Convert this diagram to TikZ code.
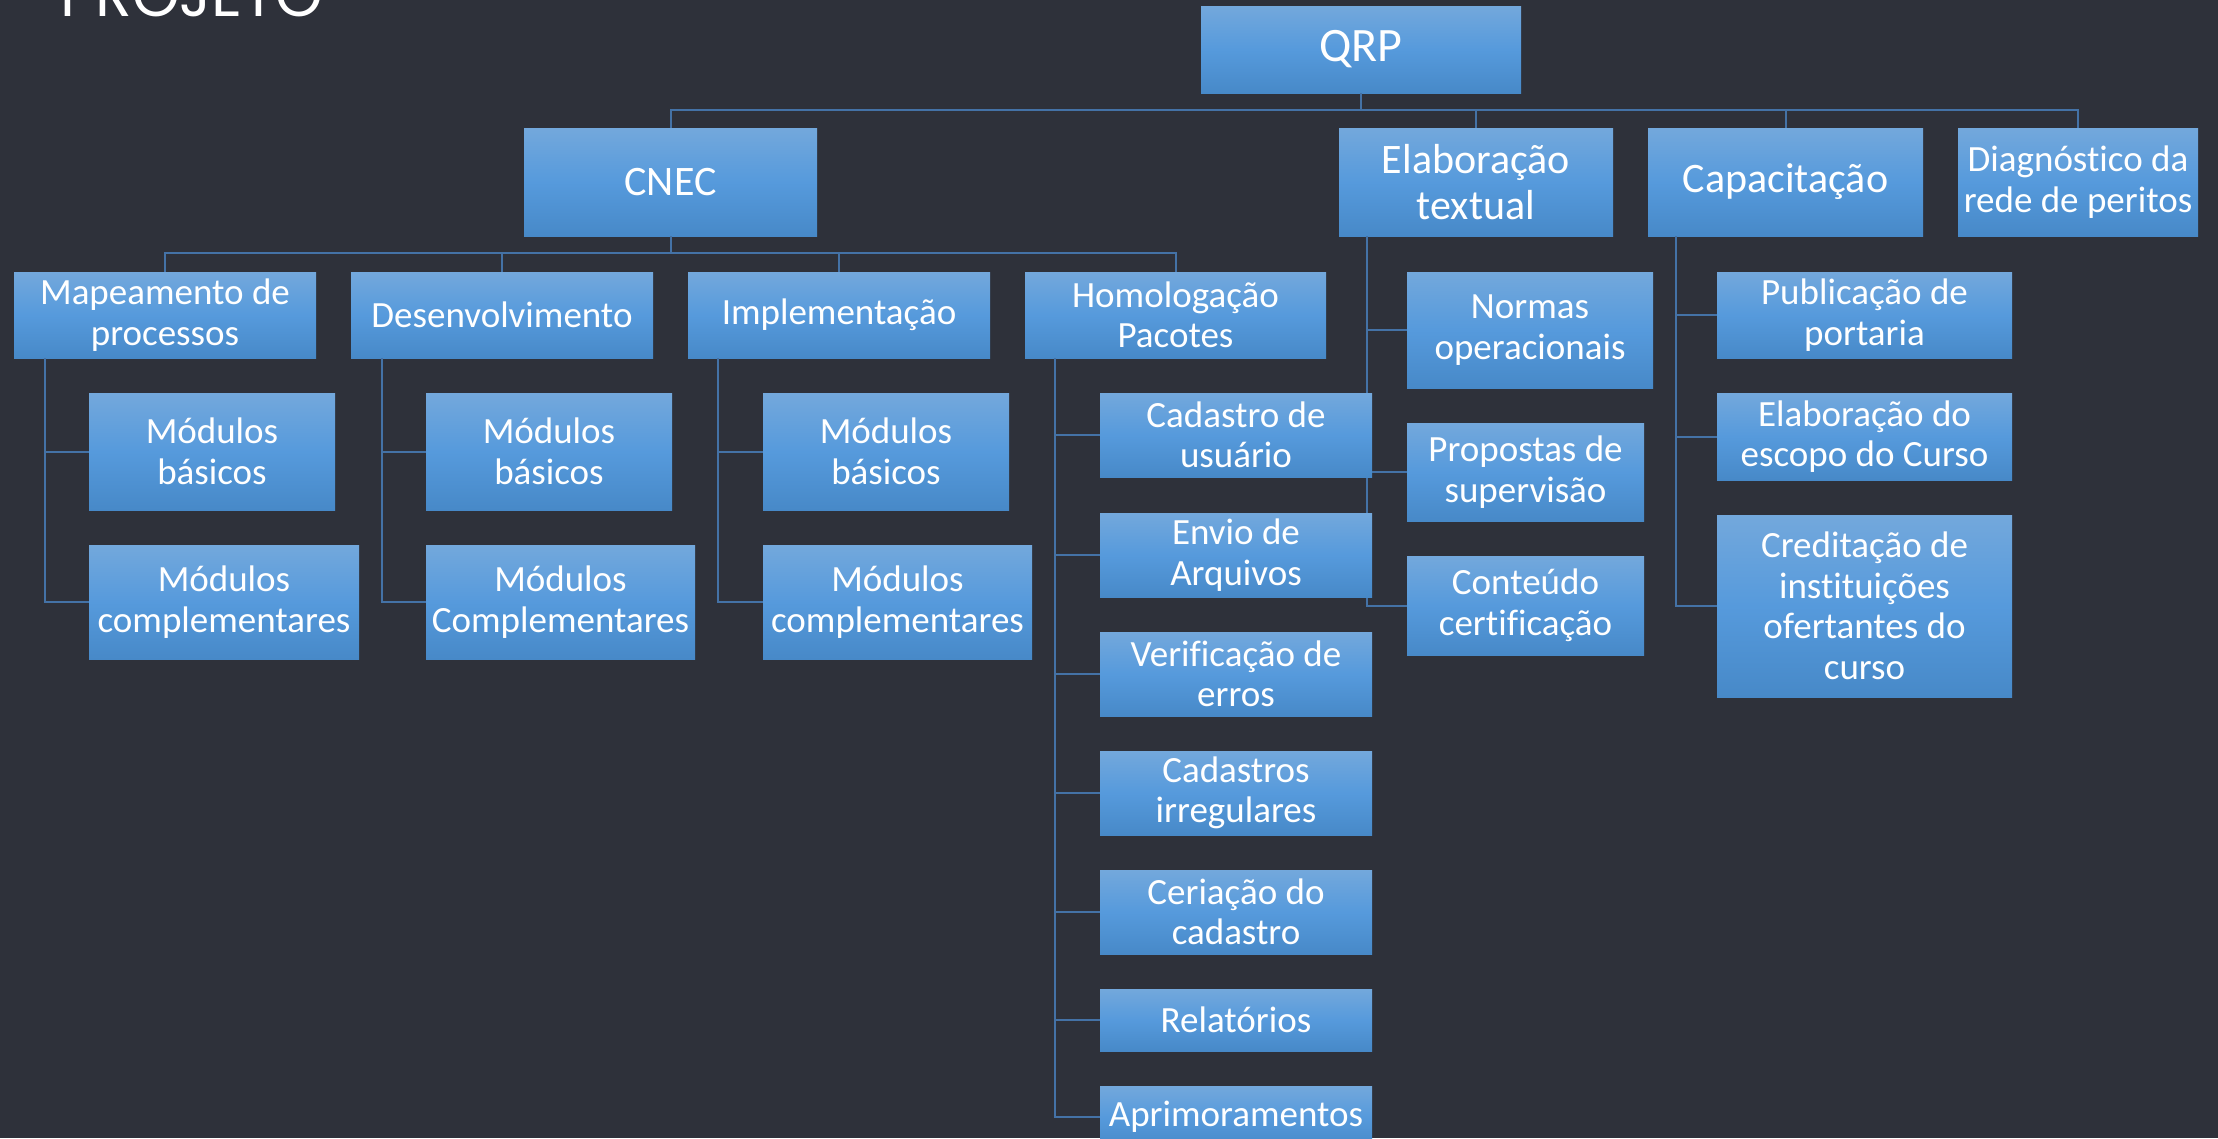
\documentclass[tikz,border=0pt]{standalone}
\usepackage{fontspec}
\setmainfont{Carlito}[Ligatures=NoCommon]
\newfontfamily\titlefont{Poppins}
\definecolor{bg}{RGB}{46,49,58}
\definecolor{boxtop}{RGB}{115,168,220}
\definecolor{boxmid}{RGB}{86,154,220}
\definecolor{boxbot}{RGB}{71,137,200}
\definecolor{conncol}{RGB}{68,114,166}
\tikzset{
  box/.style={rectangle, inner sep=0pt, top color=boxtop, bottom color=boxbot, middle color=boxmid,
    text=white, align=center, font=\fontsize{37}{40.5}\selectfont},
  bigbox/.style={box, font=\fontsize{42}{46}\selectfont},
  conn/.style={draw=conncol, line width=2pt}
}
\begin{document}
\begin{tikzpicture}[x=1pt,y=-1pt]
\useasboundingbox (0,0) rectangle (2218,1138);
\fill[bg] (0,0) rectangle (2218,1138);
% title
\node[anchor=base west, inner sep=0pt, text=white] (title) at (60,16) {\resizebox{263pt}{!}{\titlefont PROJETO}};
% coordinates
\coordinate (bus1) at (1361,110);
\coordinate (bus2) at (670.5,253);
\coordinate (mapv) at (45,358);
\coordinate (desv) at (382,358);
\coordinate (impv) at (718,358);
\coordinate (homv) at (1055,358);
\coordinate (elabv) at (1367,236);
\coordinate (capv) at (1676,236);
% nodes
\path
 (1361,49.5) node[box, font=\fontsize{48}{52}\selectfont, minimum width=320, minimum height=87] (qrp) {QRP}
 (670.5,182) node[bigbox, minimum width=293, minimum height=108] (cnec) {CNEC}
 (1476,182) node[bigbox, minimum width=274, minimum height=108] (elab) {Elaboração\\textual}
 (1785.5,182) node[bigbox, minimum width=275, minimum height=108] (cap) {Capacitação}
 (2078,182) node[box, minimum width=240, minimum height=108] (diag) {Diagnóstico da\\rede de peritos}
 (165,315) node[box, minimum width=302, minimum height=86] (map) {Mapeamento de\\processos}
 (502,315) node[box, minimum width=302, minimum height=86] (des) {Desenvolvimento}
 (839,315) node[box, minimum width=302, minimum height=86] (imp) {Implementação}
 (1175.5,315) node[box, minimum width=301, minimum height=86] (hom) {Homologação\\Pacotes}
 (212,451.5) node[box, minimum width=246, minimum height=117] (mb1) {Módulos\\básicos}
 (224,602) node[box, minimum width=270, minimum height=114] (mc1) {Módulos\\complementares}
 (549,451.5) node[box, minimum width=246, minimum height=117] (mb2) {Módulos\\básicos}
 (560.5,602) node[box, minimum width=269, minimum height=114] (mc2) {Módulos\\Complementares}
 (886,451.5) node[box, minimum width=246, minimum height=117] (mb3) {Módulos\\básicos}
 (897.5,602) node[box, minimum width=269, minimum height=114] (mc3) {Módulos\\complementares}
 (1530,330) node[box, minimum width=246, minimum height=116] (e1) {Normas\\operacionais}
 (1525.5,472) node[box, minimum width=237, minimum height=98] (e2) {Propostas de\\supervisão}
 (1525.5,605.5) node[box, minimum width=237, minimum height=99] (e3) {Conteúdo\\certificação}
 (1864.5,315) node[box, minimum width=295, minimum height=86] (c1) {Publicação de\\portaria}
 (1864.5,436.5) node[box, minimum width=295, minimum height=87] (c2) {Elaboração do\\escopo do Curso}
 (1864.5,606) node[box, minimum width=295, minimum height=182] (c3) {Creditação de\\instituições\\ofertantes do\\curso};
% connectors
\draw[conn] (qrp.south) -- (bus1);
\foreach \n in {cnec,elab,cap,diag} \draw[conn] (bus1) -| (\n.north);
\draw[conn] (cnec.south) -- (bus2);
\foreach \n in {map,des,imp,hom} \draw[conn] (bus2) -| (\n.north);
\draw[conn] (mapv) |- (mb1.west);
\draw[conn] (mapv) |- (mc1.west);
\draw[conn] (desv) |- (mb2.west);
\draw[conn] (desv) |- (mc2.west);
\draw[conn] (impv) |- (mb3.west);
\draw[conn] (impv) |- (mc3.west);
\draw[conn] (elabv) |- (e1.west);
\draw[conn] (elabv) |- (e2.west);
\draw[conn] (elabv) |- (e3.west);
\draw[conn] (capv) |- (c1.west);
\draw[conn] (capv) |- (c2.west);
\draw[conn] (capv) |- (c3.west);
% Homologação children (drawn after connectors so they cover the Elaboração line)
\foreach \cy/\h/\nm/\txt in {435/84/h1/{Cadastro de\\usuário}, 555/84/h2/{Envio de\\Arquivos}, 674/84/h3/{Verificação de\\erros}, 793/84/h4/{Cadastros\\irregulares}, 912/84/h5/{Ceriação do\\cadastro}, 1020/62/h6/{Relatórios}, 1117/62/h7/{Aprimoramentos}}{
  \node[box, minimum width=272, minimum height=\h] (\nm) at (1236,\cy) {\txt};
  \draw[conn] (homv) |- (\nm.west);
}
\end{tikzpicture}
\end{document}
